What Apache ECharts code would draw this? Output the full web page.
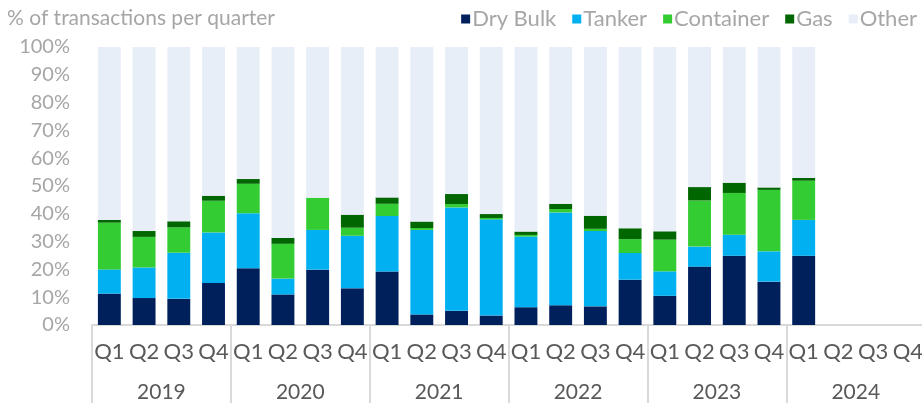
<!DOCTYPE html>
<html>
<head>
<meta charset="utf-8">
<script src="https://cdn.jsdelivr.net/npm/echarts@6/dist/echarts.min.js"></script>
<style>
  html, body { margin: 0; padding: 0; background: #fff; overflow: hidden; }
  /* chart is a little wider than the window so the last category is clipped, like the original */
  #chart { width: 926px; height: 403px; }
</style>
</head>
<body>
<div id="chart"></div>
<script>
const quarters = ['Q1','Q2','Q3','Q4','Q1','Q2','Q3','Q4','Q1','Q2','Q3','Q4',
                  'Q1','Q2','Q3','Q4','Q1','Q2','Q3','Q4','Q1','Q2','Q3','Q4']
const years = ['2019','2020','2021','2022','2023','2024']

// % of transactions per quarter
const dryBulk   = [11.3, 9.7, 9.4, 15.1, 20.4, 11.0, 19.9, 13.2, 19.2, 3.8, 5.1, 3.4, 6.4, 7.1, 6.7, 16.3, 10.5, 21.0, 24.9, 15.6, 24.9, null, null, null]
const tanker    = [8.7, 11.0, 16.6, 18.2, 19.8, 5.7, 14.3, 18.9, 20.0, 30.4, 37.2, 34.6, 25.4, 33.4, 27.1, 9.6, 8.8, 7.2, 7.6, 10.9, 12.9, null, null, null]
const container = [16.8, 11.0, 9.1, 11.4, 10.6, 12.5, 11.6, 2.9, 4.4, 0.7, 1.2, 0.5, 0.6, 1.2, 0.8, 5.0, 11.4, 16.6, 15.0, 22.1, 14.1, null, null, null]
const gas       = [1.0, 2.1, 2.2, 1.8, 1.7, 2.1, 0, 4.7, 2.3, 2.3, 3.6, 1.4, 1.2, 1.9, 4.7, 3.9, 3.0, 4.8, 3.7, 0.9, 1.0, null, null, null]
const other     = [62.2, 66.2, 62.7, 53.5, 47.5, 68.7, 54.2, 60.3, 54.1, 62.8, 52.9, 60.1, 66.4, 56.4, 60.7, 65.2, 66.3, 50.4, 48.8, 50.5, 47.1, null, null, null]

const colors = {
  'Dry Bulk': '#00205c',
  'Tanker': '#00b0f0',
  'Container': '#33cc33',
  'Gas': '#006600',
  'Other': '#e8eef8'
}

const font = 'Lato, "Open Sans", sans-serif'
const chart = echarts.init(document.getElementById('chart'))

function barSeries(name, data) {
  return {
    name: name,
    type: 'bar',
    stack: 'total',
    data: data,
    barCategoryGap: '34%',
    itemStyle: { color: colors[name] },
    emphasis: { disabled: true }
  }
}

chart.setOption({
  animation: false,
  textStyle: { fontFamily: font },
  title: {
    text: '% of transactions per quarter',
    left: 2,
    top: 3,
    textStyle: { color: '#a6a6a6', fontSize: 21, fontWeight: 'normal', fontFamily: font }
  },
  legend: {
    right: 4,
    top: 3,
    itemWidth: 9,
    itemHeight: 9,
    itemGap: 16,
    icon: 'rect',
    textStyle: { color: '#a6a6a6', fontSize: 22, fontFamily: font, padding: [0, 0, 0, -3] },
    data: ['Dry Bulk', 'Tanker', 'Container', 'Gas', 'Other']
  },
  grid: { left: 92, right: 0, top: 47, bottom: 78, containLabel: false },
  xAxis: [
    {
      type: 'category',
      data: quarters,
      axisLine: { show: true, lineStyle: { color: '#d9d9d9', width: 2 } },
      axisTick: { show: false },
      axisLabel: { interval: 0, margin: 16, color: '#595959', fontSize: 22, fontFamily: font }
    },
    {
      type: 'category',
      data: years,
      position: 'bottom',
      axisLine: { show: false },
      axisTick: { show: true, length: 80, lineStyle: { color: '#d9d9d9', width: 2 } },
      axisLabel: { interval: 0, margin: 57, color: '#595959', fontSize: 21, fontFamily: font }
    }
  ],
  yAxis: {
    type: 'value',
    min: 0,
    max: 100,
    interval: 10,
    axisLine: { show: false },
    axisTick: { show: false },
    splitLine: { show: false },
    axisLabel: { formatter: '{value}%', margin: 22, color: '#a6a6a6', fontSize: 20, fontFamily: font }
  },
  series: [
    barSeries('Dry Bulk', dryBulk),
    barSeries('Tanker', tanker),
    barSeries('Container', container),
    barSeries('Gas', gas),
    barSeries('Other', other)
  ]
})
</script>
</body>
</html>
